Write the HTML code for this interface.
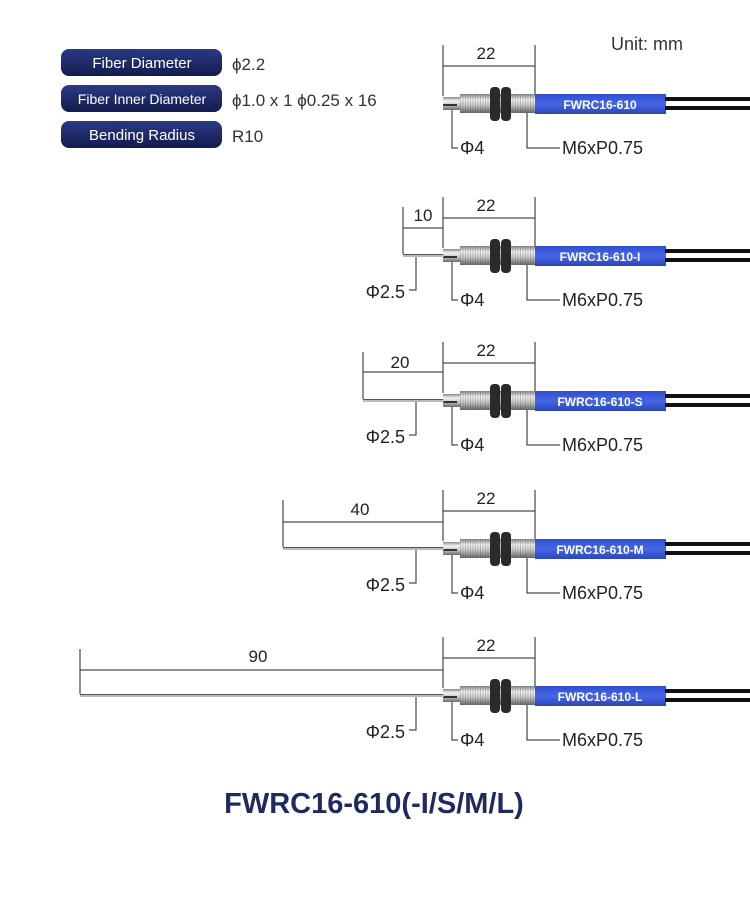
<!DOCTYPE html>
<html><head><meta charset="utf-8"><style>
html,body{margin:0;padding:0;background:#fff;}
svg{display:block;}
text{font-family:"Liberation Sans",sans-serif;}
</style></head><body>
<svg width="750" height="920" viewBox="0 0 750 920" xmlns="http://www.w3.org/2000/svg">
<defs>
<linearGradient id="badge" x1="0" y1="0" x2="0" y2="1">
<stop offset="0" stop-color="#2b3a86"/><stop offset="1" stop-color="#131c4c"/></linearGradient>
<linearGradient id="metal" x1="0" y1="0" x2="0" y2="1">
<stop offset="0" stop-color="#8a8a8a"/><stop offset="0.3" stop-color="#f2f2f2"/><stop offset="0.6" stop-color="#c8c8c8"/><stop offset="1" stop-color="#6a6a6a"/></linearGradient>
<linearGradient id="blue" x1="0" y1="0" x2="0" y2="1">
<stop offset="0" stop-color="#2f4fd0"/><stop offset="0.5" stop-color="#4566e6"/><stop offset="1" stop-color="#2a45b8"/></linearGradient>
<pattern id="thr" width="2.5" height="30" patternUnits="userSpaceOnUse">
<rect width="2.5" height="30" fill="none"/><rect width="1" height="30" fill="#000" opacity="0.18"/></pattern>
<g id="sensor">
<rect x="443" y="-6" width="18" height="13" fill="url(#metal)"/>
<rect x="443" y="1" width="14" height="2" fill="#333"/>
<rect x="460" y="-9" width="76" height="19" fill="url(#metal)"/>
<rect x="460" y="-9" width="76" height="19" fill="url(#thr)"/>
<rect x="490" y="-16" width="10" height="34" rx="4" fill="#2a2a2a"/>
<rect x="501" y="-16" width="10" height="34" rx="4" fill="#2a2a2a"/>
<rect x="535" y="-9" width="131" height="20" fill="url(#blue)"/>
<rect x="665" y="-6" width="85" height="4" fill="#111"/>
<rect x="665" y="3" width="85" height="4" fill="#111"/>
<g stroke="#222" stroke-width="1" fill="none">
<line x1="443" y1="-58" x2="443" y2="-7"/>
<line x1="535" y1="-58" x2="535" y2="-9"/>
<line x1="443" y1="-37" x2="535" y2="-37"/>
<polyline points="452,7 452,45 458,45"/>
<polyline points="527,10 527,45 560,45"/>
</g>
<text x="486" y="-44" font-size="17" text-anchor="middle" fill="#222">22</text>
<text x="460" y="51" font-size="18" fill="#222">Φ4</text>
<text x="562" y="51" font-size="18" fill="#222">M6xP0.75</text>
</g>
</defs>

<rect x="61" y="49" width="161" height="27" rx="8" fill="url(#badge)"/>
<text x="142" y="68" font-size="15" fill="#fff" text-anchor="middle">Fiber Diameter</text>
<rect x="61" y="85" width="161" height="27" rx="8" fill="url(#badge)"/>
<text x="142" y="104" font-size="14" fill="#fff" text-anchor="middle">Fiber Inner Diameter</text>
<rect x="61" y="121" width="161" height="27" rx="8" fill="url(#badge)"/>
<text x="142" y="140" font-size="15" fill="#fff" text-anchor="middle">Bending Radius</text>
<text x="232" y="70" font-size="17" fill="#333">ϕ2.2</text>
<text x="232" y="106" font-size="17" fill="#333">ϕ1.0 x 1  ϕ0.25 x 16</text>
<text x="232" y="142" font-size="17" fill="#333">R10</text>
<text x="611" y="50" font-size="18" fill="#333">Unit: mm</text>

<g transform="translate(0,103)"><use href="#sensor"/>
<text x="600" y="6" font-size="12" font-weight="bold" fill="#fff" text-anchor="middle">FWRC16-610</text></g>

<g transform="translate(0,255)"><use href="#sensor"/>
<text x="600" y="6" font-size="12" font-weight="bold" fill="#fff" text-anchor="middle">FWRC16-610-I</text>
<rect x="403" y="-1" width="41" height="3" fill="#bbb"/><line x1="403" y1="-0.5" x2="443" y2="-0.5" stroke="#555"/>
<g stroke="#222" fill="none"><line x1="403" y1="-48" x2="403" y2="-1"/><line x1="403" y1="-27" x2="443" y2="-27"/>
<polyline points="416,2 416,35 409,35"/></g>
<text x="423" y="-34" font-size="17" text-anchor="middle" fill="#222">10</text>
<text x="405" y="43" font-size="18" text-anchor="end" fill="#222">Φ2.5</text></g>

<g transform="translate(0,400)"><use href="#sensor"/>
<text x="600" y="6" font-size="12" font-weight="bold" fill="#fff" text-anchor="middle">FWRC16-610-S</text>
<rect x="363" y="-1" width="81" height="3" fill="#bbb"/><line x1="363" y1="-0.5" x2="443" y2="-0.5" stroke="#555"/>
<g stroke="#222" fill="none"><line x1="363" y1="-48" x2="363" y2="-1"/><line x1="363" y1="-28" x2="443" y2="-28"/>
<polyline points="416,2 416,35 409,35"/></g>
<text x="400" y="-32" font-size="17" text-anchor="middle" fill="#222">20</text>
<text x="405" y="43" font-size="18" text-anchor="end" fill="#222">Φ2.5</text></g>

<g transform="translate(0,548)"><use href="#sensor"/>
<text x="600" y="6" font-size="12" font-weight="bold" fill="#fff" text-anchor="middle">FWRC16-610-M</text>
<rect x="283" y="-1" width="161" height="3" fill="#bbb"/><line x1="283" y1="-0.5" x2="443" y2="-0.5" stroke="#555"/>
<g stroke="#222" fill="none"><line x1="283" y1="-48" x2="283" y2="-1"/><line x1="283" y1="-26" x2="443" y2="-26"/>
<polyline points="416,2 416,35 409,35"/></g>
<text x="360" y="-33" font-size="17" text-anchor="middle" fill="#222">40</text>
<text x="405" y="43" font-size="18" text-anchor="end" fill="#222">Φ2.5</text></g>

<g transform="translate(0,695)"><use href="#sensor"/>
<text x="600" y="6" font-size="12" font-weight="bold" fill="#fff" text-anchor="middle">FWRC16-610-L</text>
<rect x="80" y="-1" width="364" height="3" fill="#bbb"/><line x1="80" y1="-0.5" x2="443" y2="-0.5" stroke="#555"/>
<g stroke="#222" fill="none"><line x1="80" y1="-46" x2="80" y2="-1"/><line x1="80" y1="-25" x2="443" y2="-25"/>
<polyline points="416,2 416,35 409,35"/></g>
<text x="258" y="-33" font-size="17" text-anchor="middle" fill="#222">90</text>
<text x="405" y="43" font-size="18" text-anchor="end" fill="#222">Φ2.5</text></g>

<text x="374" y="813" font-size="29" font-weight="bold" text-anchor="middle" fill="#1f2a5e">FWRC16-610(-I/S/M/L)</text>
</svg>
</body></html>
